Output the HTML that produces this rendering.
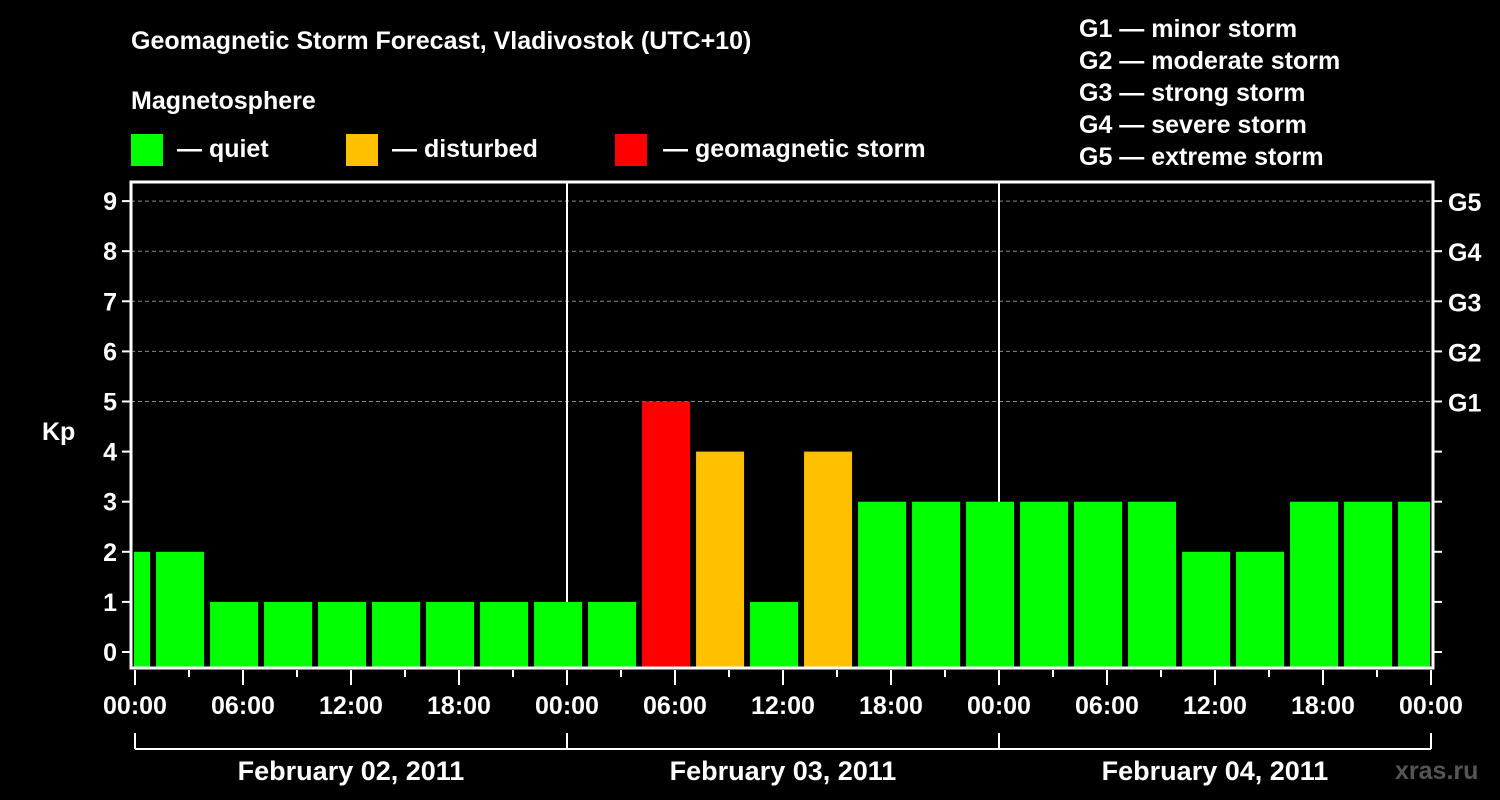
<!DOCTYPE html>
<html><head><meta charset="utf-8"><style>
html,body{margin:0;padding:0;background:#000;}
svg{display:block;font-family:"Liberation Sans",sans-serif;font-weight:bold;}
</style></head><body>
<svg id="chart" width="1500" height="800">
<rect width="1500" height="800" fill="#000"/>
<text x="131" y="49" fill="#fff" font-size="25">Geomagnetic Storm Forecast, Vladivostok (UTC+10)</text>
<text x="131" y="109" fill="#fff" font-size="25">Magnetosphere</text>
<g><rect x="131" y="134" width="32" height="32" fill="#00ff00"/><text x="177" y="157" fill="#fff" font-size="25">— quiet</text></g>
<g><rect x="346" y="134" width="32" height="32" fill="#ffc000"/><text x="392" y="157" fill="#fff" font-size="25">— disturbed</text></g>
<g><rect x="615" y="134" width="32" height="32" fill="#ff0000"/><text x="663" y="157" fill="#fff" font-size="25">— geomagnetic storm</text></g>
<g fill="#fff" font-size="25">
<text x="1079" y="37">G1 — minor storm</text>
<text x="1079" y="69">G2 — moderate storm</text>
<text x="1079" y="101">G3 — strong storm</text>
<text x="1079" y="133">G4 — severe storm</text>
<text x="1079" y="165">G5 — extreme storm</text>
</g>
<text x="42" y="440" fill="#fff" font-size="25">Kp</text>
<text x="1395" y="779" fill="#555" font-size="25">xras.ru</text>
<g id="plot"></g>
</svg>
<script>
const kpValues = [2,2,1,1,1,1,1,1,1,1,5,4,1,4,3,3,3,3,3,3,2,2,3,3,3];
const yTicks = [0,1,2,3,4,5,6,7,8,9];
const gLabels = ["G1","G2","G3","G4","G5"];
const xLabels = ["00:00","06:00","12:00","18:00","00:00","06:00","12:00","18:00","00:00","06:00","12:00","18:00","00:00"];
const dayLabels = ["February 02, 2011","February 03, 2011","February 04, 2011"];

const NS="http://www.w3.org/2000/svg";
const g=document.getElementById('plot');
const L=131,R=1433,T=182,B=668,X0=135,PXH=18;
const yS=v=>652-v*50.1;
const xS=h=>X0+h*PXH;
function mk(t,a,p){const e=document.createElementNS(NS,t);for(const k in a)e.setAttribute(k,a[k]);(p||g).appendChild(e);return e;}
function col(v){return v>=5?'#ff0000':v>=4?'#ffc000':'#00ff00';}
// clip
const defs=mk('defs',{});const cp=mk('clipPath',{id:'pc'},defs);mk('rect',{x:L+3,y:T,width:R-L-6,height:B-T},cp);
// grid
yTicks.forEach(v=>{ if(v>=5){const l=mk('line',{x1:L,x2:R,y1:yS(v),y2:yS(v),stroke:'#888','stroke-dasharray':'4,3'});

}});
// day separators
[1,2].forEach(d=>{const l=mk('line',{x1:xS(24*d),x2:xS(24*d),y1:T,y2:B,stroke:'#fff','stroke-width':2});

});
// bars
const bg=mk('g',{'clip-path':'url(#pc)'});
kpValues.forEach((v,i)=>{const h0=(i-1)*3+1.17;const x=xS(h0)-(xS(0)-X0);
const r=mk('rect',{x:x,y:yS(v),width:48,height:B-yS(v),fill:col(v)},bg);

});
// frame
const f=mk('rect',{x:L,y:T,width:R-L,height:B-T,fill:'none',stroke:'#fff','stroke-width':3});


// y ticks
yTicks.forEach(v=>{mk('line',{x1:L-9,x2:L,y1:yS(v),y2:yS(v),stroke:'#fff','stroke-width':2});
mk('line',{x1:R,x2:R+9,y1:yS(v),y2:yS(v),stroke:'#fff','stroke-width':2});
const t=mk('text',{x:L-14,y:yS(v)+9,fill:'#fff','font-size':25,'text-anchor':'end'});t.textContent=v;

});
gLabels.forEach((s,i)=>{const t=mk('text',{x:1448,y:yS(5+i)+10,fill:'#fff','font-size':25});t.textContent=s;

});
// x ticks
for(let h=0;h<=72;h+=3){mk('line',{x1:xS(h),x2:xS(h),y1:B+2,y2:B+(h%6==0?17:9),stroke:'#fff','stroke-width':2});}
xLabels.forEach((s,i)=>{const t=mk('text',{x:xS(i*6),y:714,fill:'#fff','font-size':25,'text-anchor':'middle'});t.textContent=s;

});
// day bracket
mk('line',{x1:xS(0),x2:xS(72),y1:749,y2:749,stroke:'#fff','stroke-width':2});
for(let d=0;d<=3;d++)mk('line',{x1:xS(24*d),x2:xS(24*d),y1:733,y2:749,stroke:'#fff','stroke-width':2});
dayLabels.forEach((s,i)=>{const t=mk('text',{x:xS(24*i+12),y:780,fill:'#fff','font-size':27,'text-anchor':'middle'});t.textContent=s;

});
</script>
</body></html>
